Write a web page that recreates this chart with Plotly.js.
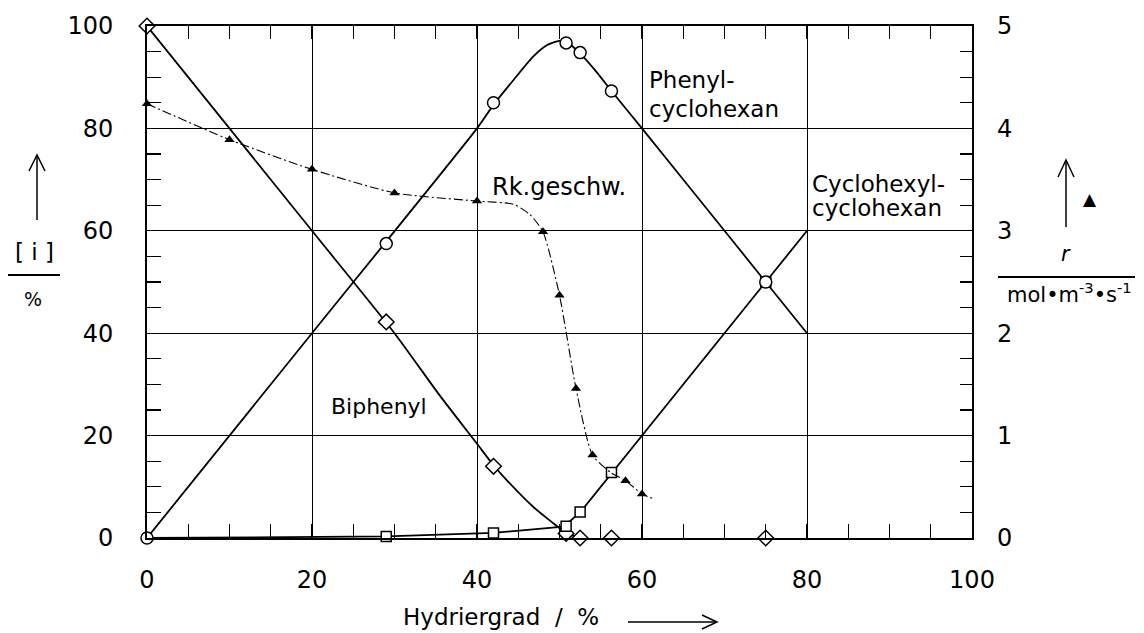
<!DOCTYPE html>
<html><head><meta charset="utf-8">
<script src="https://cdn.plot.ly/plotly-3.0.1.min.js"></script>
<style>html,body{margin:0;padding:0;background:#fff}#chart{width:1144px;height:633px}</style>
</head><body><div id="chart"></div>
<script>
// measured points (Hydriergrad / %)
const measX = [0, 29, 42, 50.8, 52.5, 56.3, 75];
const biphenylY = [100, 42.2, 14, 0.9, 0, 0, 0];
const phenylY = [0, 57.5, 85, 96.7, 94.8, 87.3, 50];
const cyclohexylX = [29, 42, 50.8, 52.5, 56.3, 75];
const cyclohexylY = [0.3, 1, 2.3, 5.1, 12.8, 50];
// reaction rate r / mol m^-3 s^-1 (right axis)
const rateX = [0, 10, 20, 30, 40, 48, 50, 52, 54, 58, 60];
const rateR = [4.24, 3.89, 3.6, 3.37, 3.29, 2.99, 2.37, 1.46, 0.81, 0.56, 0.43];
// fitted curves
const biphenylCurveX = [0, 20, 30, 35.5, 40, 42, 43.6, 46.8, 49, 50.8, 52.5];
const biphenylCurveY = [100, 60, 40, 27.8, 18.4, 14.2, 11.3, 6.1, 3.2, 1, 0];
const phenylCurveX = [0, 20, 40, 42, 44.4, 46.8, 48.4, 50, 50.9, 52.4, 54.5, 56.3, 60, 70, 80];
const phenylCurveY = [0, 40, 80, 84.6, 89.4, 94, 96.2, 97.1, 96.8, 94.8, 91, 87.3, 80, 60, 40];
const cyclohexylCurveX = [0, 29, 42, 50.5, 52.5, 56.3, 60, 80];
const cyclohexylCurveY = [0, 0.3, 1, 2.2, 5, 12.6, 20, 60];
const rateCurveX = [0, 10, 20, 30, 40, 44.4, 46.4, 48, 50, 52, 54, 56.2, 58, 60, 61.5];
const rateCurveR = [4.24, 3.89, 3.6, 3.37, 3.29, 3.26, 3.16, 2.99, 2.37, 1.46, 0.81, 0.64, 0.56, 0.43, 0.38];
const xTicks = [0, 20, 40, 60, 80, 100];
const yTicks = [0, 20, 40, 60, 80, 100];
const y2Ticks = [0, 1, 2, 3, 4, 5];

const F = 'DejaVu Sans, sans-serif';
const L = 147, R = 972, T = 26, B = 538;
const PX = p => (p - L) / (R - L);
const PY = p => (B - p) / (B - T);

const lineStyle = {color: '#000', width: 1.8};
const traces = [
  {x: biphenylCurveX, y: biphenylCurveY, mode: 'lines', line: Object.assign({shape: 'spline', smoothing: 0.6}, lineStyle), cliponaxis: false, showlegend: false, hoverinfo: 'skip'},
  {x: phenylCurveX, y: phenylCurveY, mode: 'lines', line: Object.assign({shape: 'spline', smoothing: 0.6}, lineStyle), cliponaxis: false, showlegend: false, hoverinfo: 'skip'},
  {x: cyclohexylCurveX, y: cyclohexylCurveY, mode: 'lines', line: lineStyle, cliponaxis: false, showlegend: false, hoverinfo: 'skip'},
  {x: rateCurveX, y: rateCurveR, yaxis: 'y2', mode: 'lines', line: {color: '#000', width: 1.1, dash: '9px,3px,2px,3px', shape: 'spline', smoothing: 0.6}, cliponaxis: false, showlegend: false, hoverinfo: 'skip'},
  {x: measX, y: biphenylY, mode: 'markers', marker: {symbol: 'diamond', size: 12, color: '#fff', line: {color: '#000', width: 1.5}}, cliponaxis: false, showlegend: false},
  {x: cyclohexylX, y: cyclohexylY, mode: 'markers', marker: {symbol: 'square', size: 10, color: '#fff', line: {color: '#000', width: 1.5}}, cliponaxis: false, showlegend: false},
  {x: measX, y: phenylY, mode: 'markers', marker: {symbol: 'circle', size: 12, color: '#fff', line: {color: '#000', width: 1.5}}, cliponaxis: false, showlegend: false},
  {x: rateX, y: rateR, yaxis: 'y2', mode: 'markers', marker: {symbol: 'triangle-up', size: 9, color: '#000', line: {width: 0}}, cliponaxis: false, showlegend: false},
  // invisible carrier so that the top tick axis is drawn
  {x: [xTicks[0]], y: [yTicks[0]], xaxis: 'x2', mode: 'markers', marker: {opacity: 0}, showlegend: false, hoverinfo: 'skip'}
];

const ann = (text, x, y, opts) => Object.assign({text: text, xref: 'paper', yref: 'paper', x: PX(x), y: PY(y), showarrow: false, font: {family: F, size: 23, color: '#000'}, xanchor: 'left', yanchor: 'middle'}, opts || {});

const annotations = [
  ann('Phenyl-', 647, 80),
  ann('cyclohexan', 647, 109),
  ann('Cyclohexyl-', 810, 184),
  ann('cyclohexan', 810, 208),
  ann('Rk.geschw.', 490, 187, {font: {family: F, size: 24, color: '#000'}}),
  ann('Biphenyl', 329, 406, {font: {family: F, size: 22, color: '#000'}}),
  ann('[ i ]', 34, 252, {xanchor: 'center', font: {family: F, size: 23, color: '#000'}}),
  ann('%', 33, 299, {xanchor: 'center', font: {family: F, size: 19, color: '#000'}}),
  ann('▲', 1090, 199, {xanchor: 'center', font: {family: F, size: 17, color: '#000'}}),
  ann('<i>r</i>', 1066, 254, {xanchor: 'center', font: {family: F, size: 21, color: '#000'}}),
  ann('mol•m<sup>-3</sup>•s<sup>-1</sup>', 1069, 293, {xanchor: 'center', font: {family: F, size: 21, color: '#000'}}),
  ann('Hydriergrad  /  %', 501, 617, {xanchor: 'center', font: {family: F, size: 23, color: '#000'}})
];

const sline = (x0, y0, x1, y1, w) => ({type: 'line', xref: 'paper', yref: 'paper', x0: PX(x0), y0: PY(y0), x1: PX(x1), y1: PY(y1), line: {color: '#000', width: w || 1.5}});
const spath = pts => ({type: 'path', xref: 'paper', yref: 'paper', path: 'M' + pts.map(p => PX(p[0]) + ',' + PY(p[1])).join('L'), line: {color: '#000', width: 1.5}});

const shapes = [
  sline(37, 220, 37, 156), spath([[29, 171], [37, 155], [45, 171]]),
  sline(8, 275, 60, 275, 2),
  sline(1066, 227, 1066, 161), spath([[1058, 177], [1066, 160], [1074, 177]]),
  sline(998, 277, 1135, 277, 2),
  sline(628, 622, 716, 622), spath([[702, 615], [717, 622], [702, 629]])
];

const tickCommon = {ticks: 'inside', ticklen: 14, tickwidth: 1.2, tickcolor: '#000'};
const layout = {
  width: 1144, height: 633,
  margin: {l: L, r: 1144 - R, t: T, b: 633 - B, autoexpand: false},
  paper_bgcolor: '#fff', plot_bgcolor: '#fff',
  showlegend: false,
  font: {family: F, color: '#000'},
  xaxis: Object.assign({
    range: [0, 100], tickvals: xTicks, ticktext: xTicks.map(String),
    showgrid: true, gridcolor: '#000', gridwidth: 1, zeroline: false,
    showline: true, linecolor: '#000', linewidth: 2, mirror: true,
    minor: Object.assign({dtick: 5, showgrid: false}, tickCommon),
    tickfont: {family: F, size: 24, color: '#000'}, ticklabelstandoff: 19
  }, tickCommon),
  xaxis2: Object.assign({
    overlaying: 'x', side: 'top', range: [0, 100], tickvals: xTicks,
    showgrid: false, zeroline: false, showline: false, showticklabels: false,
    minor: Object.assign({dtick: 5, showgrid: false}, tickCommon, {ticklen: 13}),
    ticklen: 13
  }, {ticks: 'inside', tickwidth: 1.2, tickcolor: '#000'}),
  yaxis: Object.assign({
    range: [0, 100], tickvals: yTicks, ticktext: yTicks.map(String),
    showgrid: true, gridcolor: '#000', gridwidth: 1, zeroline: false,
    showline: true, linecolor: '#000', linewidth: 2, mirror: true,
    minor: Object.assign({dtick: 5, showgrid: false}, tickCommon),
    tickfont: {family: F, size: 24, color: '#000'}, ticklabelstandoff: 27
  }, tickCommon),
  yaxis2: {
    overlaying: 'y', side: 'right', range: [0, 5], tickvals: y2Ticks, ticktext: y2Ticks.map(String),
    showgrid: false, zeroline: false, showline: false,
    ticks: 'inside', ticklen: 12, tickwidth: 1.2, tickcolor: '#000',
    minor: {dtick: 0.25, ticks: 'inside', ticklen: 12, tickwidth: 1.2, tickcolor: '#000', showgrid: false},
    tickfont: {family: F, size: 24, color: '#000'}, ticklabelstandoff: 24
  },
  annotations: annotations,
  shapes: shapes
};

Plotly.newPlot('chart', traces, layout, {staticPlot: true, displayModeBar: false});
</script>
</body></html>
